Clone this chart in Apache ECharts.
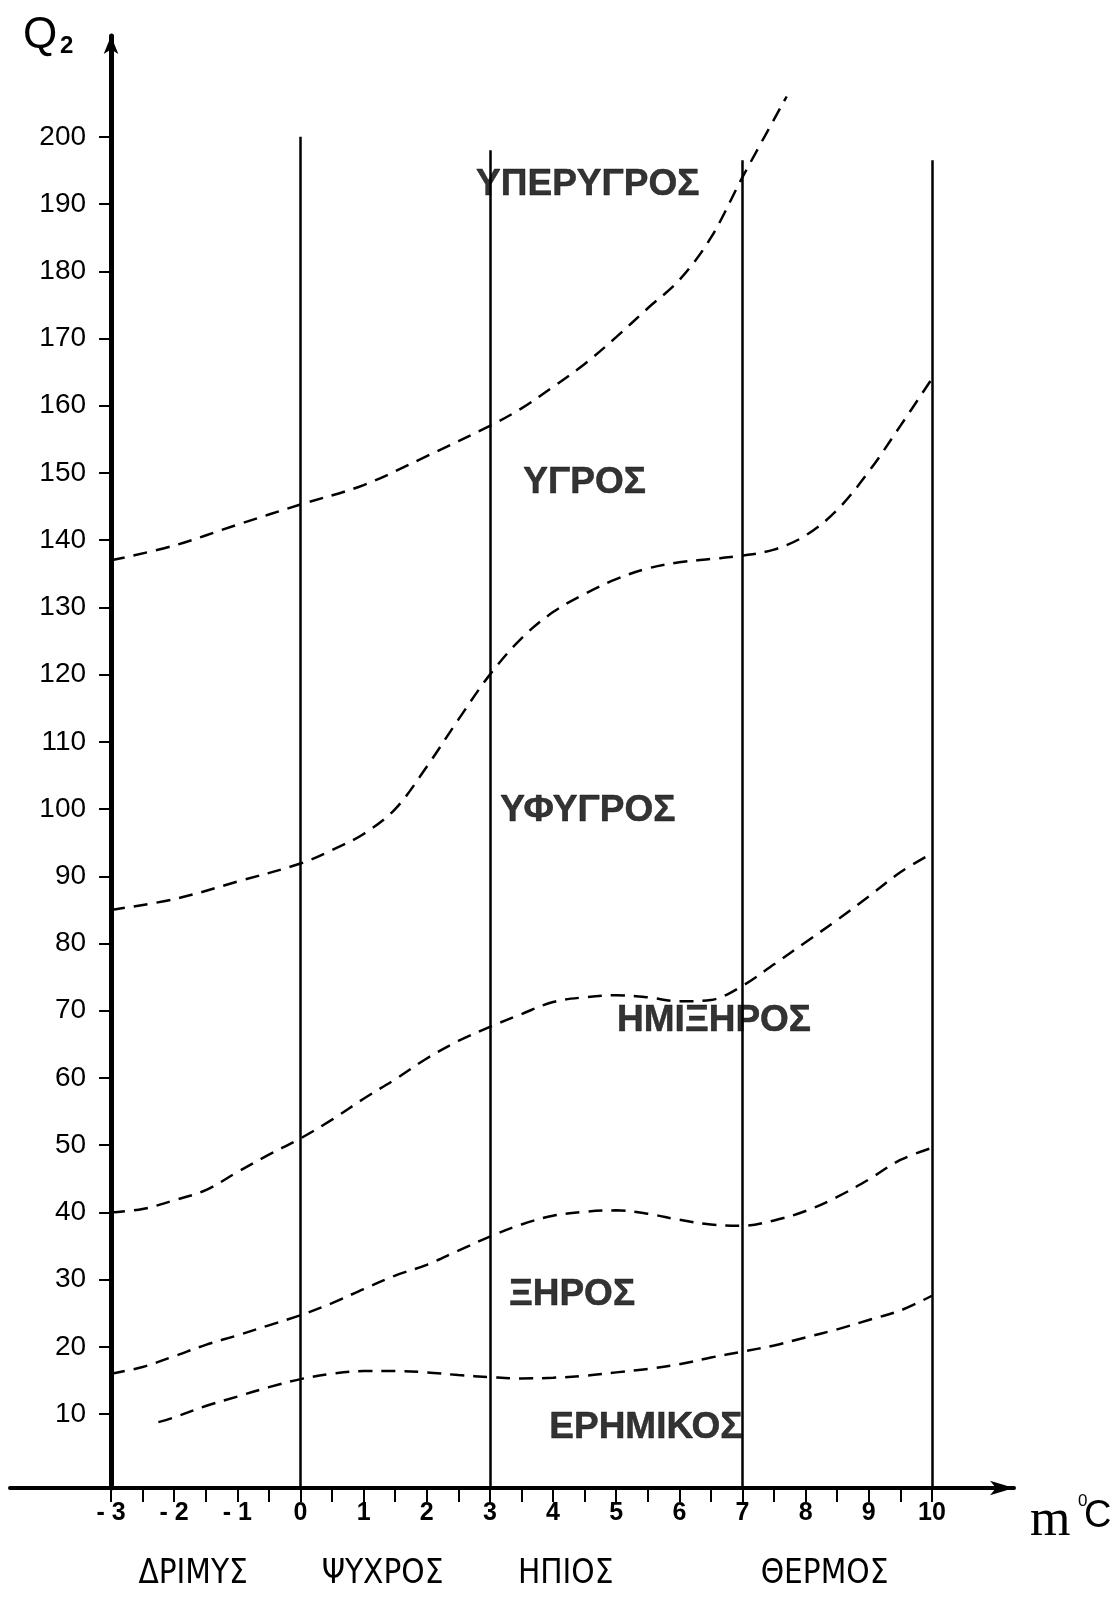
<!DOCTYPE html>
<html>
<head>
<meta charset="utf-8">
<title>Κλιματόγραμμα Emberger</title>
<script src="https://cdn.jsdelivr.net/npm/echarts@6/dist/echarts.min.js"></script>
<style>
  html, body { margin: 0; padding: 0; background: #ffffff; }
  #chart { width: 1113px; height: 1614px; }
</style>
</head>
<body>
<div id="chart"></div>
<script>
// Horizontal axis: m, mean minimum temperature of the coldest month (°C)
const tempLabels = [-3, -2, -1, 0, 1, 2, 3, 4, 5, 6, 7, 8, 9, 10];
const tempTicks = [-3, -2.5, -2, -1.5, -1, -0.5, 0, 0.5, 1, 1.5, 2, 2.5, 3, 3.5, 4, 4.5,
                   5, 5.5, 6, 6.5, 7, 7.5, 8, 8.5, 9, 9.5, 10];
// Vertical axis: pluviothermic quotient Q2
const q2Labels = [10, 20, 30, 40, 50, 60, 70, 80, 90, 100, 110, 120, 130, 140, 150,
                  160, 170, 180, 190, 200];

// Winter variants separated by vertical lines
const winterBounds = [0, 3, 7, 10];
const winterBoundTops = [200, 198, 196.5, 196.5];
const winterNames = ['ΔΡΙΜΥΣ', 'ΨΥΧΡΟΣ', 'ΗΠΙΟΣ', 'ΘΕΡΜΟΣ'];
const winterNameAt = [-1.7, 1.3, 4.2, 8.3];

// Bioclimatic zones
const zoneNames = ['ΥΠΕΡΥΓΡΟΣ', 'ΥΓΡΟΣ', 'ΥΦΥΓΡΟΣ', 'ΗΜΙΞΗΡΟΣ', 'ΞΗΡΟΣ', 'ΕΡΗΜΙΚΟΣ'];
const zoneNameAt = [[4.55, 192.8], [4.5, 148.5], [4.55, 99.7], [6.55, 68.5], [4.3, 27.8], [5.47, 8.0]];

// Zone boundaries (m, Q2)
const perhumidM = [-3, -2, -1, 0, 1, 2, 3, 3.5, 4, 4.5, 5, 5.5, 6, 6.5, 7, 7.7];
const perhumidQ = [137, 139.2, 142.3, 145.3, 148.2, 152.5, 157, 159.6, 162.8, 166.2, 170.2,
                   174.5, 178.7, 185, 194, 206];

const humidM = [-3, -2, -1, 0, 0.5, 1, 1.5, 2, 2.5, 3, 3.5, 4, 4.5, 5, 5.5, 6, 6.5, 7, 7.5,
                8, 8.5, 9, 9.5, 10];
const humidQ = [85, 86.6, 89.2, 91.9, 93.9, 96.3, 100, 106.3, 113.3, 120, 125.4, 129.3, 132,
                134.2, 135.8, 136.7, 137.2, 137.7, 138.6, 140.7, 144.5, 150.2, 157, 164];

const subhumidM = [-3, -2.5, -2, -1.5, -1, -0.5, 0, 0.5, 1, 1.5, 2, 2.5, 3, 3.5, 4, 4.5, 5,
                   5.5, 6, 6.5, 7, 7.5, 8, 8.5, 9, 9.5, 10];
const subhumidQ = [40, 40.5, 41.8, 43.3, 46, 48.6, 51, 53.8, 56.9, 59.8, 62.9, 65.5, 67.6,
                   69.5, 71.3, 72, 72.3, 72, 71.4, 71.6, 73.7, 76.9, 80.2, 83.5, 87, 90.6, 93.4];

const semiaridM = [-3, -2.5, -2, -1.5, -1, -0.5, 0, 0.5, 1, 1.5, 2, 2.5, 3, 3.5, 4, 4.5, 5,
                   5.5, 6, 6.5, 7, 7.5, 8, 8.5, 9, 9.5, 10];
const semiaridQ = [16, 17, 18.6, 20.3, 21.7, 23.2, 24.7, 26.5, 28.6, 30.6, 32.2, 34.3, 36.4,
                   38.2, 39.5, 40.1, 40.3, 39.8, 38.9, 38.2, 38, 38.8, 40.2, 42.3, 44.9, 47.8, 49.6];

const aridM = [-2.25, -2, -1.5, -1, -0.5, 0, 0.5, 1, 1.5, 2, 2.5, 3, 3.5, 4, 4.5, 5, 5.5, 6,
               6.5, 7, 7.5, 8, 8.5, 9, 9.5, 10];
const aridQ = [8.8, 9.5, 11.2, 12.6, 14, 15.2, 16, 16.4, 16.4, 16.2, 15.8, 15.5, 15.3, 15.4,
               15.7, 16.2, 16.7, 17.4, 18.4, 19.3, 20.2, 21.4, 22.6, 24, 25.4, 27.6];

// Axis extents
const mMin = -4.6, mMax = 11.3;
const qMin = -1, qMax = 215;

// Layout
const W = 1113, H = 1614;
const gridLeft = 10, gridRight = 99, gridTop = 36, gridBottom = 126;
const gridWidth = W - gridLeft - gridRight;
// the Q2 axis stands on m = -3
const yAxisOffset = -((-3 - mMin) / (mMax - mMin)) * gridWidth;

const zip = (xs, ys) => xs.map((x, i) => [x, ys[i]]);
const INK = '#000000';

function boundarySeries(name, xs, ys) {
  return {
    name: name,
    type: 'line',
    data: zip(xs, ys),
    smooth: 0.35,
    showSymbol: false,
    silent: true,
    clip: false,
    lineStyle: { color: INK, width: 2.5, type: [14, 9] }
  };
}

const chart = echarts.init(document.getElementById('chart'), null, { renderer: 'canvas' });

const option = {
  backgroundColor: '#ffffff',
  animation: false,
  grid: {
    left: gridLeft, right: gridRight, top: gridTop, bottom: gridBottom,
    containLabel: false, outerBoundsMode: 'none'
  },
  xAxis: [
    {
      type: 'value', min: mMin, max: mMax, position: 'bottom',
      axisLine: {
        onZero: false, symbol: ['none', 'arrow'], symbolSize: [11, 24],
        lineStyle: { color: INK, width: 4 }
      },
      axisTick: {
        customValues: tempTicks, length: 14, inside: false,
        lineStyle: { color: INK, width: 2 }
      },
      axisLabel: {
        customValues: tempLabels, margin: 13, color: INK,
        fontFamily: 'Liberation Sans', fontSize: 25, fontWeight: 'bold',
        formatter: v => (v < 0 ? '- ' + (-v) : String(v))
      },
      splitLine: { show: false }
    },
    {
      type: 'value', min: mMin, max: mMax, position: 'bottom',
      axisLine: { show: false, onZero: false },
      axisTick: { show: false },
      axisLabel: {
        customValues: winterNameAt, margin: 70, color: INK,
        fontFamily: "'Liberation Sans Narrow', 'DejaVu Sans Condensed', 'Liberation Sans'",
        fontSize: 33,
        formatter: v => winterNames[winterNameAt.indexOf(v)]
      },
      splitLine: { show: false }
    }
  ],
  yAxis: {
    type: 'value', min: qMin, max: qMax, position: 'left', offset: yAxisOffset,
    axisLine: {
      show: true, onZero: false, symbol: ['none', 'arrow'], symbolSize: [11, 18],
      lineStyle: { color: INK, width: 5 }
    },
    axisTick: {
      customValues: q2Labels, length: 12, inside: false,
      lineStyle: { color: INK, width: 2 }
    },
    axisLabel: {
      customValues: q2Labels, margin: 25, color: INK,
      fontFamily: 'Liberation Sans', fontSize: 28
    },
    splitLine: { show: false }
  },
  series: [
    {
      name: 'winter bounds',
      type: 'line',
      data: [],
      silent: true,
      markLine: {
        silent: true,
        symbol: ['none', 'none'],
        label: { show: false },
        lineStyle: { color: INK, width: 2.5, type: 'solid' },
        data: winterBounds.map((m, i) => [
          { coord: [m, qMin] },
          { coord: [m, winterBoundTops[i]] }
        ])
      }
    },
    boundarySeries('perhumid', perhumidM, perhumidQ),
    boundarySeries('humid', humidM, humidQ),
    boundarySeries('subhumid', subhumidM, subhumidQ),
    boundarySeries('semiarid', semiaridM, semiaridQ),
    boundarySeries('arid', aridM, aridQ),
    {
      name: 'zones',
      type: 'scatter',
      symbolSize: 0,
      silent: true,
      z: 5,
      data: zoneNameAt.map((p, i) => ({ name: zoneNames[i], value: p })),
      label: {
        show: true, position: 'inside', formatter: '{b}', color: INK,
        fontFamily: 'Liberation Sans', fontWeight: 'bold', fontSize: 37,
        textBorderColor: INK, textBorderWidth: 0.5
      }
    }
  ],
  graphic: [
    { type: 'text', left: 23, top: 14, silent: true,
      style: { text: 'Q', fill: INK, font: '44px Liberation Sans' } },
    { type: 'text', left: 60, top: 34, silent: true,
      style: { text: '2', fill: INK, font: 'bold 24px Liberation Sans' } },
    { type: 'text', left: 1030, top: 1495, silent: true,
      style: { text: 'm', fill: INK, font: '52px Liberation Serif' } },
    { type: 'text', left: 1078, top: 1493, silent: true,
      style: { text: '0', fill: INK, font: '17px Liberation Sans' } },
    { type: 'text', left: 1084, top: 1498, silent: true,
      style: { text: 'C', fill: INK, font: '38px Liberation Sans' } }
  ]
};

chart.setOption(option);
</script>
</body>
</html>
